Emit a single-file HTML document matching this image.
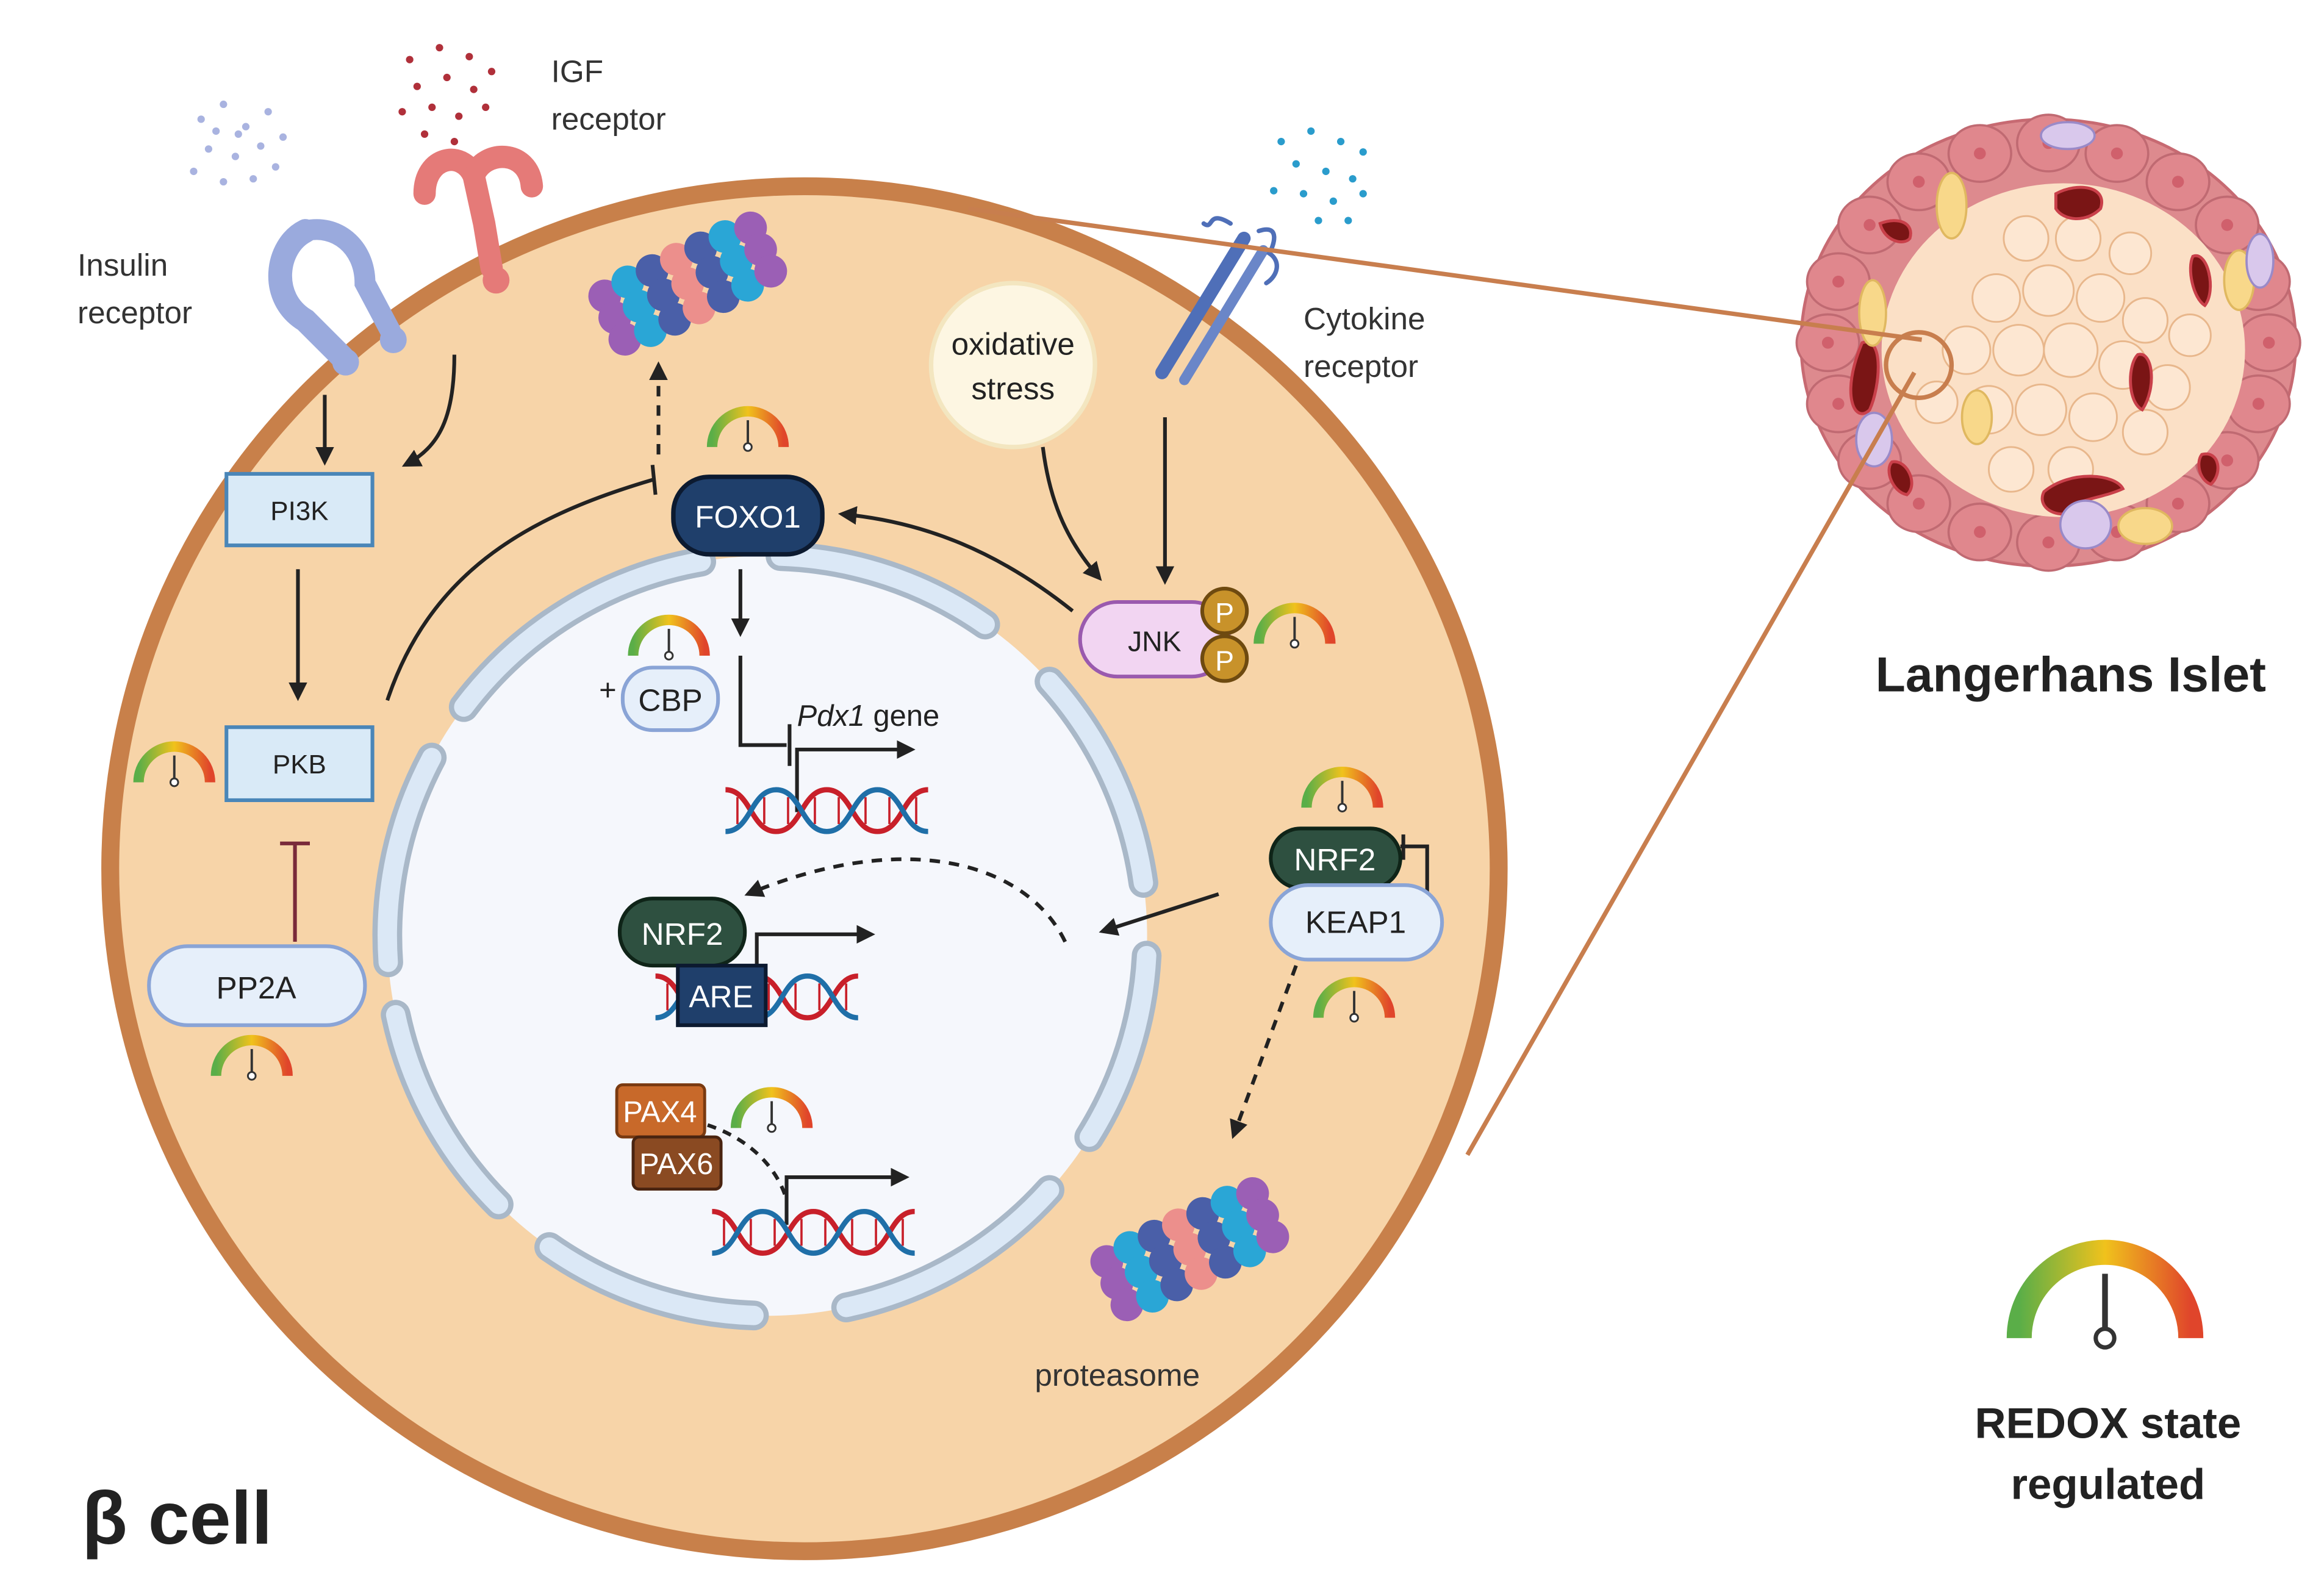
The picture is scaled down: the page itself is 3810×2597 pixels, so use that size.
<!DOCTYPE html>
<html><head><meta charset="utf-8"><style>
html,body{margin:0;padding:0;background:#fff;}
svg{display:block;}
text{font-family:"Liberation Sans",sans-serif;}
</style></head><body>
<svg width="3810" height="2597" viewBox="0 0 1560 1063" preserveAspectRatio="none" xmlns="http://www.w3.org/2000/svg">
<defs>
<linearGradient id="gg" x1="0" x2="1" y1="0" y2="0">
<stop offset="0" stop-color="#5aae48"/><stop offset="0.5" stop-color="#f0c21c"/><stop offset="1" stop-color="#e0452b"/>
</linearGradient>
<marker id="ah" viewBox="0 0 10 10" refX="8" refY="5" markerWidth="5" markerHeight="5" orient="auto-start-reverse"><path d="M0,0 L10,5 L0,10 z" fill="#222"/></marker>
<g id="gauge">
<path d="M-24,0 A24,24 0 0 1 24,0" fill="none" stroke="url(#gg)" stroke-width="7"/>
<line x1="0" y1="-2" x2="0" y2="-18" stroke="#333" stroke-width="1.6"/>
<circle cx="0" cy="0" r="2.6" fill="#fff" stroke="#333" stroke-width="1.2"/>
</g>
<g id="prot">
<g transform="rotate(-25)">
<circle cx="-50" cy="-16" r="11" fill="#9b5fb5"/><circle cx="-50" cy="0" r="11" fill="#9b5fb5"/><circle cx="-50" cy="16" r="11" fill="#9b5fb5"/>
<circle cx="-32" cy="-18" r="11" fill="#2aa6d6"/><circle cx="-32" cy="0" r="11" fill="#2aa6d6"/><circle cx="-32" cy="18" r="11" fill="#2aa6d6"/>
<circle cx="-14" cy="-18" r="11" fill="#4a5fa8"/><circle cx="-14" cy="0" r="11" fill="#4a5fa8"/><circle cx="-14" cy="18" r="11" fill="#4a5fa8"/>
<circle cx="4" cy="-18" r="11" fill="#ec8f8c"/><circle cx="4" cy="0" r="11" fill="#ec8f8c"/><circle cx="4" cy="18" r="11" fill="#ec8f8c"/>
<circle cx="22" cy="-18" r="11" fill="#4a5fa8"/><circle cx="22" cy="0" r="11" fill="#4a5fa8"/><circle cx="22" cy="18" r="11" fill="#4a5fa8"/>
<circle cx="40" cy="-18" r="11" fill="#2aa6d6"/><circle cx="40" cy="0" r="11" fill="#2aa6d6"/><circle cx="40" cy="18" r="11" fill="#2aa6d6"/>
<circle cx="58" cy="-16" r="11" fill="#9b5fb5"/><circle cx="58" cy="0" r="11" fill="#9b5fb5"/><circle cx="58" cy="16" r="11" fill="#9b5fb5"/>
</g></g>
<g id="dna" fill="none" stroke-width="3.5">
<path d="M0,0 C17,0 17,28 34,28 C51,28 51,0 68,0 C85,0 85,28 102,28 C119,28 119,0 136,0" stroke="#c8202a"/>
<path d="M0,28 C17,28 17,0 34,0 C51,0 51,28 68,28 C85,28 85,0 102,0 C119,0 119,28 136,28" stroke="#1f6fa8"/>
<g stroke="#c8202a" stroke-width="1.5"><line x1="8" y1="5" x2="8" y2="23"/><line x1="26" y1="5" x2="26" y2="23"/><line x1="42" y1="5" x2="42" y2="23"/><line x1="60" y1="5" x2="60" y2="23"/><line x1="76" y1="5" x2="76" y2="23"/><line x1="94" y1="5" x2="94" y2="23"/><line x1="110" y1="5" x2="110" y2="23"/><line x1="128" y1="5" x2="128" y2="23"/></g>
</g>
<g id="pc"><ellipse cx="0" cy="0" rx="21" ry="19" fill="#e0878d" stroke="#c06a72" stroke-width="1.5"/><circle cx="0" cy="0" r="4" fill="#d0606c"/></g>
</defs>

<!-- cell -->
<ellipse cx="540" cy="583" rx="466" ry="458" fill="#f7d4a8" stroke="#c8804a" stroke-width="12"/>
<!-- nucleus -->
<circle cx="515" cy="628" r="255" fill="#f5f7fc"/>
<g fill="none" stroke-linecap="round">
<g stroke="#a9b8c8" stroke-width="20">
<path d="M311.3,474.5 A255,255 0 0 1 470.7,376.9"/>
<path d="M523.9,373.2 A255,255 0 0 1 661.3,419.1"/>
<path d="M704.5,457.4 A255,255 0 0 1 767.5,592.5"/>
<path d="M769.7,641.3 A255,255 0 0 1 731.2,763.1"/>
<path d="M704.5,798.6 A255,255 0 0 1 568.0,877.4"/>
<path d="M506.1,882.8 A255,255 0 0 1 368.7,836.9"/>
<path d="M334.7,808.3 A255,255 0 0 1 265.6,681.0"/>
<path d="M260.6,645.8 A255,255 0 0 1 289.8,508.4"/>
</g>
<g stroke="#dbe8f6" stroke-width="13">
<path d="M311.3,474.5 A255,255 0 0 1 470.7,376.9"/>
<path d="M523.9,373.2 A255,255 0 0 1 661.3,419.1"/>
<path d="M704.5,457.4 A255,255 0 0 1 767.5,592.5"/>
<path d="M769.7,641.3 A255,255 0 0 1 731.2,763.1"/>
<path d="M704.5,798.6 A255,255 0 0 1 568.0,877.4"/>
<path d="M506.1,882.8 A255,255 0 0 1 368.7,836.9"/>
<path d="M334.7,808.3 A255,255 0 0 1 265.6,681.0"/>
<path d="M260.6,645.8 A255,255 0 0 1 289.8,508.4"/>
</g></g>

<!-- ligand dots -->
<g fill="#a9b3e0">
<circle cx="135" cy="80" r="2.5"/><circle cx="150" cy="70" r="2.5"/><circle cx="165" cy="85" r="2.5"/><circle cx="180" cy="75" r="2.5"/><circle cx="140" cy="100" r="2.5"/><circle cx="158" cy="105" r="2.5"/><circle cx="175" cy="98" r="2.5"/><circle cx="190" cy="92" r="2.5"/><circle cx="130" cy="115" r="2.5"/><circle cx="150" cy="122" r="2.5"/><circle cx="170" cy="120" r="2.5"/><circle cx="185" cy="112" r="2.5"/><circle cx="160" cy="90" r="2.5"/><circle cx="145" cy="88" r="2.5"/>
</g>
<g fill="#b0303a">
<circle cx="275" cy="40" r="2.5"/><circle cx="295" cy="32" r="2.5"/><circle cx="315" cy="38" r="2.5"/><circle cx="330" cy="48" r="2.5"/><circle cx="280" cy="58" r="2.5"/><circle cx="300" cy="52" r="2.5"/><circle cx="318" cy="60" r="2.5"/><circle cx="270" cy="75" r="2.5"/><circle cx="290" cy="72" r="2.5"/><circle cx="308" cy="78" r="2.5"/><circle cx="326" cy="72" r="2.5"/><circle cx="285" cy="90" r="2.5"/><circle cx="305" cy="95" r="2.5"/>
</g>
<g fill="#2a9ccc">
<circle cx="860" cy="95" r="2.5"/><circle cx="880" cy="88" r="2.5"/><circle cx="900" cy="95" r="2.5"/><circle cx="915" cy="102" r="2.5"/><circle cx="870" cy="110" r="2.5"/><circle cx="890" cy="115" r="2.5"/><circle cx="908" cy="120" r="2.5"/><circle cx="855" cy="128" r="2.5"/><circle cx="875" cy="130" r="2.5"/><circle cx="895" cy="135" r="2.5"/><circle cx="915" cy="130" r="2.5"/><circle cx="885" cy="148" r="2.5"/><circle cx="905" cy="148" r="2.5"/>
</g>

<!-- insulin receptor -->
<g fill="none" stroke="#9aaadd" stroke-linecap="round">
<path d="M205,155 C185,165 180,200 205,215 L230,240" stroke-width="16"/>
<path d="M205,155 C225,150 245,165 245,190 L262,222" stroke-width="14"/>
</g>
<circle cx="232" cy="243" r="9" fill="#9aaadd"/><circle cx="264" cy="228" r="9" fill="#9aaadd"/>
<!-- IGF receptor -->
<g fill="none" stroke="#e57a78" stroke-linecap="round" stroke-width="15">
<path d="M285,130 C285,105 310,100 318,118 C325,100 355,100 357,125"/>
<path d="M318,118 L325,150 L330,180"/>
</g>
<circle cx="333" cy="188" r="9" fill="#e57a78"/>

<!-- cytokine receptor -->
<g stroke="#4f6fb8" stroke-linecap="round" fill="none">
<path d="M835,160 L780,250" stroke-width="9"/>
<path d="M848,168 L795,255" stroke-width="7" stroke="#6a86c8"/>
<path d="M826,150 C810,140 815,155 808,150 M845,155 C860,150 855,165 852,170 C860,175 858,185 850,190" stroke-width="3"/>
</g>

<!-- labels top -->
<text x="370" y="55" font-size="21" fill="#333">IGF</text>
<text x="370" y="87" font-size="21" fill="#333">receptor</text>
<text x="52" y="185" font-size="21" fill="#333">Insulin</text>
<text x="52" y="217" font-size="21" fill="#333">receptor</text>
<text x="875" y="221" font-size="21" fill="#333">Cytokine</text>
<text x="875" y="253" font-size="21" fill="#333">receptor</text>

<!-- oxidative stress -->
<circle cx="680" cy="245" r="55" fill="#fdf6e2" stroke="#f3e6c0" stroke-width="3"/>
<text x="680" y="238" font-size="21" text-anchor="middle" fill="#222">oxidative</text>
<text x="680" y="268" font-size="21" text-anchor="middle" fill="#222">stress</text>

<!-- proteasomes -->
<use href="#prot" x="458" y="192"/>
<use href="#prot" x="795" y="840"/>

<!-- arrows -->
<g stroke="#222" stroke-width="2.5" fill="none">
<line x1="218" y1="265" x2="218" y2="310" marker-end="url(#ah)"/>
<path d="M305,238 C305,280 295,300 272,312" marker-end="url(#ah)"/>
<line x1="200" y1="382" x2="200" y2="468" marker-end="url(#ah)"/>
<path d="M260,470 C290,380 360,345 438,322"/>
<line x1="438" y1="312" x2="440" y2="332"/>
<line x1="442" y1="305" x2="442" y2="245" stroke-dasharray="7,6" marker-end="url(#ah)"/>
<path d="M720,410 C670,370 620,350 565,345" marker-end="url(#ah)"/>
<path d="M700,300 C705,340 718,365 738,388" marker-end="url(#ah)"/>
<line x1="782" y1="280" x2="782" y2="390" marker-end="url(#ah)"/>
<line x1="497" y1="382" x2="497" y2="425" marker-end="url(#ah)"/>
<path d="M497,440 L497,500 L528,500"/>
<line x1="530" y1="486" x2="530" y2="514"/>
<path d="M535,545 L535,503 L612,503" marker-end="url(#ah)"/>
<path d="M508,650 L508,627 L585,627" marker-end="url(#ah)"/>
<path d="M715,632 C690,580 610,555 502,600" stroke-dasharray="7,6" marker-end="url(#ah)"/>
<line x1="818" y1="600" x2="740" y2="625" marker-end="url(#ah)"/>
<line x1="870" y1="648" x2="828" y2="762" stroke-dasharray="7,6" marker-end="url(#ah)"/>
<path d="M940,568 L958,568 L958,600"/>
<path d="M475,755 C505,765 522,785 528,805" stroke-dasharray="6,5"/>
<path d="M528,822 L528,790 L608,790" marker-end="url(#ah)"/>
</g>
<line x1="942" y1="560" x2="942" y2="577" stroke="#222" stroke-width="2.5"/>
<line x1="198" y1="632" x2="198" y2="566" stroke="#7a2a3a" stroke-width="2.5"/>
<line x1="188" y1="566" x2="208" y2="566" stroke="#7a2a3a" stroke-width="2.5"/>

<!-- DNA -->
<use href="#dna" x="487" y="530"/>
<use href="#dna" x="440" y="655"/>
<use href="#dna" x="478" y="813"/>

<!-- boxes -->
<rect x="152" y="318" width="98" height="48" fill="#d9eaf7" stroke="#4a86b8" stroke-width="2.5"/>
<text x="201" y="349" font-size="18" text-anchor="middle" fill="#222">PI3K</text>
<rect x="152" y="488" width="98" height="49" fill="#d9eaf7" stroke="#4a86b8" stroke-width="2.5"/>
<text x="201" y="519" font-size="18" text-anchor="middle" fill="#222">PKB</text>
<rect x="100" y="635" width="145" height="53" rx="26" fill="#e6effa" stroke="#8aa4d6" stroke-width="2.5"/>
<text x="172" y="670" font-size="21" text-anchor="middle" fill="#222">PP2A</text>

<rect x="452" y="320" width="100" height="52" rx="24" fill="#1f3f6b" stroke="#0c1a30" stroke-width="3"/>
<text x="502" y="354" font-size="21" text-anchor="middle" fill="#fff">FOXO1</text>

<rect x="725" y="404" width="100" height="50" rx="25" fill="#f2d5f2" stroke="#9a5aae" stroke-width="2.5"/>
<text x="775" y="437" font-size="19" text-anchor="middle" fill="#222">JNK</text>
<circle cx="822" cy="410" r="15" fill="#c8922a" stroke="#6e4a10" stroke-width="2.5"/>
<circle cx="822" cy="442" r="15" fill="#c8922a" stroke="#6e4a10" stroke-width="2.5"/>
<text x="822" y="418" font-size="19" text-anchor="middle" fill="#fff">P</text>
<text x="822" y="450" font-size="19" text-anchor="middle" fill="#fff">P</text>

<rect x="418" y="448" width="64" height="42" rx="20" fill="#e6effa" stroke="#8aa4d6" stroke-width="2.5"/>
<text x="450" y="477" font-size="21" text-anchor="middle" fill="#222">CBP</text>
<text x="408" y="470" font-size="20" text-anchor="middle" fill="#222">+</text>
<text x="535" y="487" font-size="20" fill="#222"><tspan font-style="italic">Pdx1</tspan> gene</text>

<rect x="416" y="603" width="84" height="45" rx="22" fill="#2e5040" stroke="#0f2418" stroke-width="2.5"/>
<text x="458" y="634" font-size="21" text-anchor="middle" fill="#fff">NRF2</text>
<rect x="455" y="648" width="59" height="40" fill="#1f3f6b" stroke="#0c1a30" stroke-width="2.5"/>
<text x="484" y="676" font-size="21" text-anchor="middle" fill="#fff">ARE</text>

<rect x="853" y="556" width="87" height="40" rx="20" fill="#2e5040" stroke="#0f2418" stroke-width="2.5"/>
<text x="896" y="584" font-size="21" text-anchor="middle" fill="#fff">NRF2</text>
<rect x="853" y="594" width="115" height="50" rx="25" fill="#e6effa" stroke="#8aa4d6" stroke-width="2.5"/>
<text x="910" y="626" font-size="21" text-anchor="middle" fill="#222">KEAP1</text>

<rect x="414" y="728" width="59" height="35" rx="4" fill="#c8692a" stroke="#7a3a10" stroke-width="2"/>
<text x="443" y="753" font-size="20" text-anchor="middle" fill="#fff">PAX4</text>
<rect x="425" y="763" width="59" height="35" rx="4" fill="#8a4a22" stroke="#4a2410" stroke-width="2"/>
<text x="454" y="788" font-size="20" text-anchor="middle" fill="#fff">PAX6</text>

<!-- gauges -->
<use href="#gauge" x="502" y="300"/>
<use href="#gauge" x="449" y="440"/>
<use href="#gauge" x="869" y="432"/>
<use href="#gauge" x="117" y="525"/>
<use href="#gauge" x="169" y="722"/>
<use href="#gauge" x="901" y="542"/>
<use href="#gauge" x="909" y="683"/>
<use href="#gauge" x="518" y="757"/>
<g transform="translate(1413,898) scale(2.4)"><use href="#gauge"/></g>

<text x="750" y="930" font-size="21" text-anchor="middle" fill="#333">proteasome</text>
<text x="55" y="1036" font-size="50" font-weight="bold" fill="#222">β cell</text>

<!-- islet -->
<g>
<ellipse cx="1375" cy="230" rx="166" ry="150" fill="#dd8a8e" stroke="#c76a72" stroke-width="2"/>
<use href="#pc" x="1523" y="230"/><use href="#pc" x="1516" y="271"/><use href="#pc" x="1495" y="309"/><use href="#pc" x="1462" y="338"/><use href="#pc" x="1421" y="357"/><use href="#pc" x="1375" y="364"/><use href="#pc" x="1329" y="357"/><use href="#pc" x="1288" y="338"/><use href="#pc" x="1255" y="309"/><use href="#pc" x="1234" y="271"/><use href="#pc" x="1227" y="230"/><use href="#pc" x="1234" y="189"/><use href="#pc" x="1255" y="151"/><use href="#pc" x="1288" y="122"/><use href="#pc" x="1329" y="103"/><use href="#pc" x="1375" y="96"/><use href="#pc" x="1421" y="103"/><use href="#pc" x="1462" y="122"/><use href="#pc" x="1495" y="151"/><use href="#pc" x="1516" y="189"/>
<ellipse cx="1385" cy="235" rx="122" ry="112" fill="#fbe0c6"/>
<g fill="#fde7d2" stroke="#e8b78c" stroke-width="1.2">
<circle cx="1340" cy="200" r="16"/><circle cx="1375" cy="195" r="17"/><circle cx="1410" cy="200" r="16"/><circle cx="1440" cy="215" r="15"/>
<circle cx="1320" cy="235" r="16"/><circle cx="1355" cy="235" r="17"/><circle cx="1390" cy="235" r="18"/><circle cx="1425" cy="245" r="16"/><circle cx="1455" cy="260" r="15"/>
<circle cx="1335" cy="275" r="16"/><circle cx="1370" cy="275" r="17"/><circle cx="1405" cy="280" r="16"/><circle cx="1440" cy="290" r="15"/>
<circle cx="1360" cy="160" r="15"/><circle cx="1395" cy="160" r="15"/><circle cx="1430" cy="170" r="14"/><circle cx="1350" cy="315" r="15"/><circle cx="1390" cy="315" r="15"/><circle cx="1300" cy="270" r="14"/><circle cx="1470" cy="225" r="14"/>
</g>
<g fill="#7a1515" stroke="#c9404a" stroke-width="2">
<path d="M1380,130 C1395,122 1415,125 1410,140 C1400,150 1385,148 1380,140 z"/>
<path d="M1262,150 C1275,145 1285,150 1282,160 C1278,165 1265,162 1262,150 z"/>
<path d="M1250,230 C1265,225 1262,260 1255,275 C1245,285 1235,265 1250,230 z"/>
<path d="M1435,238 C1445,235 1448,260 1438,275 C1428,270 1428,245 1435,238 z"/>
<path d="M1372,330 C1390,315 1420,318 1425,328 C1410,335 1390,335 1385,345 C1375,345 1368,338 1372,330 z"/>
<path d="M1472,172 C1482,168 1488,195 1480,205 C1472,200 1468,180 1472,172 z"/>
<path d="M1270,310 C1280,308 1288,325 1280,332 C1270,330 1265,315 1270,310 z"/>
<path d="M1478,305 C1490,302 1492,318 1484,325 C1476,322 1474,310 1478,305 z"/>
</g>
<g fill="#f8d88a" stroke="#e0b860" stroke-width="1.5">
<ellipse cx="1310" cy="138" rx="10" ry="22"/><ellipse cx="1257" cy="210" rx="9" ry="22"/><ellipse cx="1503" cy="188" rx="10" ry="20"/><ellipse cx="1440" cy="353" rx="18" ry="12"/><ellipse cx="1327" cy="280" rx="10" ry="18"/>
</g>
<g fill="#d9c8ec" stroke="#9a8ac8" stroke-width="1.5">
<ellipse cx="1388" cy="91" rx="18" ry="9"/><ellipse cx="1517" cy="175" rx="9" ry="18"/><ellipse cx="1258" cy="295" rx="12" ry="18"/><ellipse cx="1400" cy="352" rx="17" ry="16"/>
</g>
</g>
<!-- connector lines to islet -->
<line x1="650" y1="140" x2="1290" y2="228" stroke="#c87e4e" stroke-width="3"/>
<line x1="985" y1="775" x2="1285" y2="250" stroke="#c87e4e" stroke-width="3"/>
<circle cx="1288" cy="245" r="22" fill="none" stroke="#c87e4e" stroke-width="3"/>

<text x="1390" y="464" font-size="33" font-weight="bold" text-anchor="middle" fill="#222">Langerhans Islet</text>
<text x="1415" y="965" font-size="29" font-weight="bold" text-anchor="middle" fill="#222">REDOX state</text>
<text x="1415" y="1006" font-size="29" font-weight="bold" text-anchor="middle" fill="#222">regulated</text>
</svg>
</body></html>
